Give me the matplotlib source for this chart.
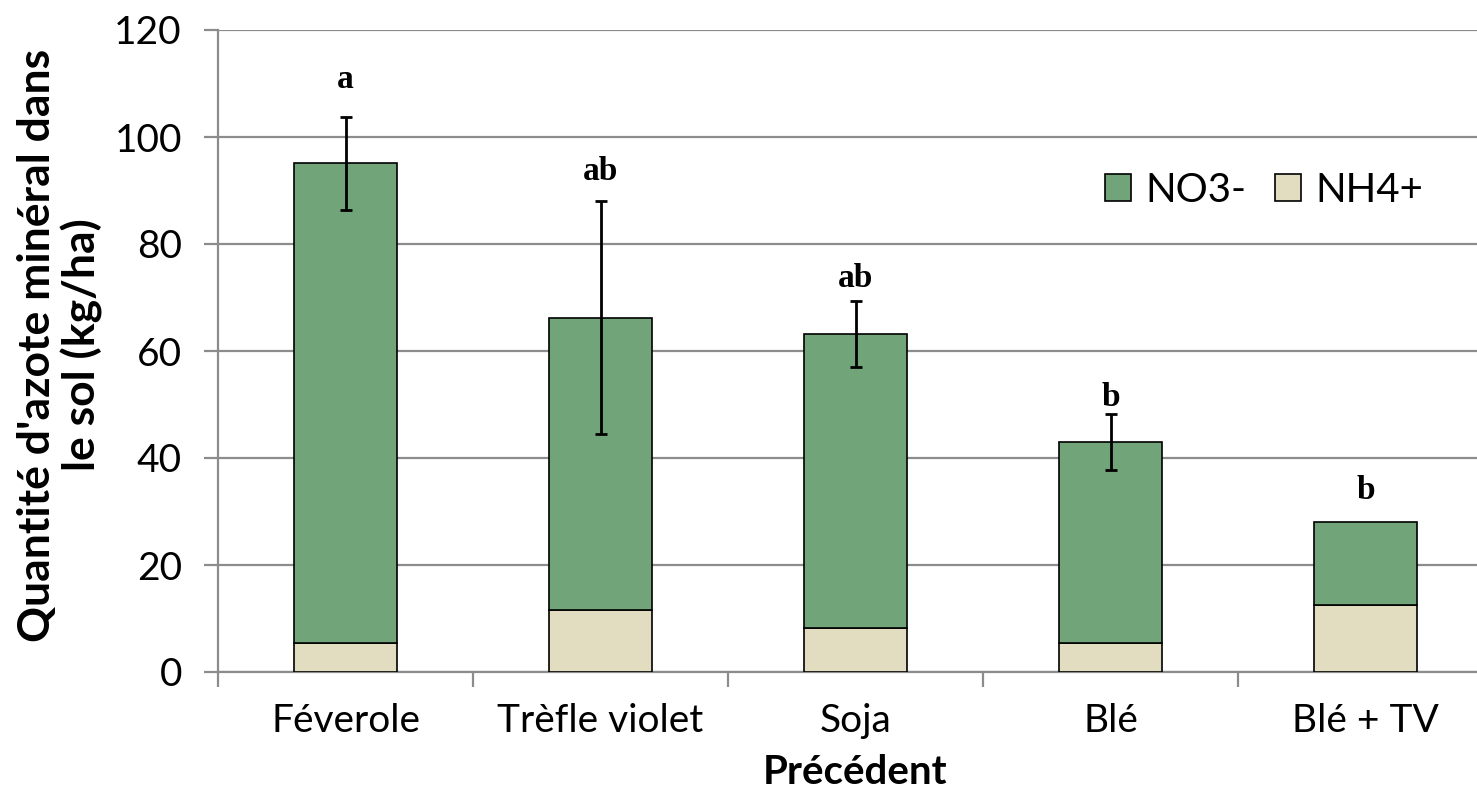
import matplotlib
matplotlib.use("Agg")
import matplotlib.pyplot as plt
import numpy as np

categories = ["Féverole", "Trèfle violet", "Soja", "Blé", "Blé + TV"]
nh4 = [5.4, 11.6, 8.2, 5.4, 12.5]
totals = [95.1, 66.2, 63.2, 43.0, 28.0]
no3 = [t - n for t, n in zip(totals, nh4)]
err = [8.7, 21.8, 6.2, 5.2, 0.0]
letters = ["a", "ab", "ab", "b", "b"]
letter_y = [110.7, 93.5, 73.6, 51.4, 34.0]
yticks = [0, 20, 40, 60, 80, 100, 120]

green = "#72A47A"
beige = "#E2DDC0"
gray = "#8C8C8C"

plt.rcParams['font.family'] = ['Lato', 'DejaVu Sans']

fig = plt.figure(figsize=(14.77, 7.88), dpi=100)
ax = fig.add_axes([218/1477, 116/788, 1275/1477, 642/788])

x = np.arange(len(categories))
ax.bar(x, nh4, width=0.405, color=beige, edgecolor="black", linewidth=1.2, label="NH4+", zorder=3)
ax.bar(x, no3, width=0.405, bottom=nh4, color=green, edgecolor="black", linewidth=1.2, label="NO3-", zorder=3)

for i in range(len(categories)):
    if err[i] > 0:
        ax.errorbar(x[i], totals[i], yerr=err[i], fmt="none", ecolor="black",
                    elinewidth=2, capsize=4.5, capthick=2, zorder=4)
    ax.text(x[i], letter_y[i], letters[i], ha="center", va="center",
            fontsize=24, fontweight="bold", family=["Liberation Serif"], zorder=5)

ax.set_xlim(-0.5, 4.5)
ax.set_ylim(0, 120)
ax.set_yticks(yticks)
ax.set_yticklabels([str(v) for v in yticks])
ax.yaxis.grid(True, color=gray, linewidth=1.6, zorder=0)
ax.set_axisbelow(True)

ax.set_xticks(np.arange(-0.5, 5.0, 1.0))
ax.set_xticklabels([])
ax.set_xticks(x, minor=True)
ax.set_xticklabels(categories, minor=True)
ax.tick_params(axis="x", which="major", length=11, width=1.6, color=gray, direction="out")
ax.tick_params(axis="x", which="minor", length=0, pad=22, labelsize=28)
ax.tick_params(axis="y", length=10, width=1.6, color=gray, direction="out", pad=16, labelsize=28)

for s in ["top", "right"]:
    ax.spines[s].set_visible(False)
for s in ["left", "bottom"]:
    ax.spines[s].set_color(gray)
    ax.spines[s].set_linewidth(1.6)

fig.text(855/1477, 1 - 772/788, "Précédent", ha="center", va="center",
         fontsize=29, fontweight="bold")
fig.text(60/1477, 1 - 345/788, "Quantité d'azote minéral dans\nle sol (kg/ha)", ha="center",
         va="center", rotation=90, fontsize=32, fontweight="bold", linespacing=1.1)

handles, labels = ax.get_legend_handles_labels()
leg = fig.legend(handles[::-1], labels[::-1], loc="center", bbox_to_anchor=(1264/1477, 1 - 190/788),
                 ncol=2, frameon=False, fontsize=29, handlelength=0.65, handleheight=0.65,
                 handletextpad=0.35, columnspacing=0.7)

fig.savefig("out.png", dpi=100)
